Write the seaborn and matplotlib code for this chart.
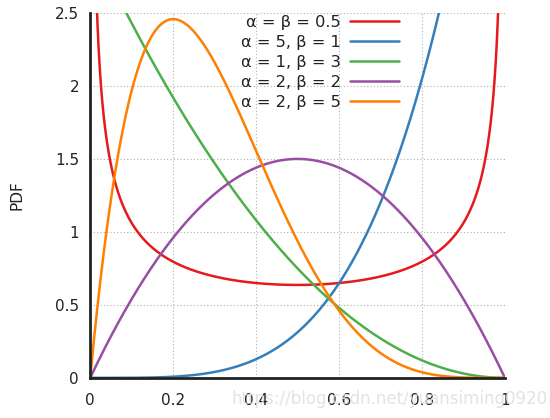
import math
import numpy as np
import pandas as pd
import matplotlib
matplotlib.use("Agg")
import matplotlib.pyplot as plt
import seaborn as sns

# Beta distribution parameters shown in the legend
alphas = [0.5, 5, 1, 2, 2]
betas = [0.5, 1, 3, 2, 5]
labels = ["α = β = 0.5", "α = 5, β = 1", "α = 1, β = 3", "α = 2, β = 2", "α = 2, β = 5"]
colors = ["#e41a1c", "#377eb8", "#4daf4a", "#984ea3", "#ff7f00"]
x_ticks = [0, 0.2, 0.4, 0.6, 0.8, 1]
x_tick_labels = ["0", "0.2", "0.4", "0.6", "0.8", "1"]
y_ticks = [0, 0.5, 1, 1.5, 2, 2.5]
y_tick_labels = ["0", "0.5", "1", "1.5", "2", "2.5"]


def beta_pdf(x, a, b):
    norm = math.gamma(a + b) / (math.gamma(a) * math.gamma(b))
    return norm * x ** (a - 1) * (1 - x) ** (b - 1)


xs = np.linspace(0.0002, 0.9998, 2000)
rows = []
for a, b, lab in zip(alphas, betas, labels):
    for x, y in zip(xs, beta_pdf(xs, a, b)):
        rows.append((x, y, lab))
df = pd.DataFrame(rows, columns=["x", "pdf", "label"])

sns.set_style("white")
plt.rcParams["font.family"] = ["DejaVu Sans"]

fig = plt.figure(figsize=(5.5, 4.18), dpi=100)
ax = fig.add_axes([0.164, 0.096, 0.754, 0.873])

sns.lineplot(data=df, x="x", y="pdf", hue="label", hue_order=labels,
             palette=colors, linewidth=1.8, ax=ax, sort=False)

ax.set_xlim(0, 1)
ax.set_ylim(0, 2.5)
ax.set_xticks(x_ticks)
ax.set_xticklabels(x_tick_labels)
ax.set_yticks(y_ticks)
ax.set_yticklabels(y_tick_labels)
ax.grid(True, color="#b0b0b0", linestyle=(0, (1, 2)), linewidth=0.8)
ax.set_axisbelow(True)

for s in ["top", "right"]:
    ax.spines[s].set_visible(False)
for s in ["left", "bottom"]:
    ax.spines[s].set_color("#222222")
    ax.spines[s].set_linewidth(2)

ax.tick_params(direction="in", length=5, width=1.5, colors="#222222",
               labelsize=11, labelcolor="#222222")
ax.tick_params(axis="x", pad=11)
ax.tick_params(axis="y", pad=8)

ax.set_xlabel("")
ax.set_ylabel("PDF", fontsize=11, color="#222222", labelpad=22)

leg = ax.legend(loc="upper right", bbox_to_anchor=(0.78, 1.034), frameon=False,
                markerfirst=False, fontsize=11.7, handlelength=3.0,
                labelspacing=0.3, handletextpad=0.6)
for t in leg.get_texts():
    t.set_ha("right")
    t.set_color("#222222")

fig.text(0.995, 0.025, "https://blog.csdn.net/yuansiming0920", ha="right",
         va="bottom", fontsize=12, color="#e0e0e0", alpha=0.9)

fig.savefig("out.png", dpi=100)
